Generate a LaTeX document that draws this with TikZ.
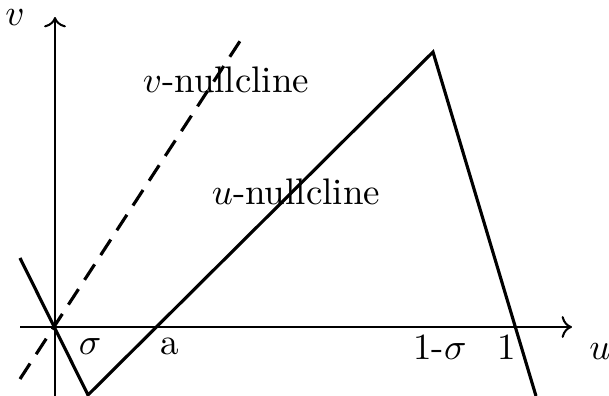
\documentclass[tikz,border=0pt]{standalone}
\usepackage{tikz}
\usetikzlibrary{arrows.meta,calc}
\tikzset{
  phaseA/.style={
    every node/.style={inner sep=1pt, outer sep=0pt},
    line cap=butt, line join=miter,
  },
  axisLine/.style={->, black, line width=0.55pt},
  uNull/.style={black, line width=0.85pt},
  vNull/.style={black, line width=0.85pt, dash pattern=on 5pt off 3pt},
  tickLabel/.style={font=\normalsize, anchor=center},
  curveName/.style={font=\normalsize, anchor=center},
}
\begin{document}
\begin{tikzpicture}[phaseA, x=0.0095cm, y=0.0095cm]

% ============================================================
% Frame: keeps the margins of the original picture.
% ============================================================
\useasboundingbox (-55,-69) rectangle (554,327);

% ============================================================
% Axes
% ============================================================
\draw[axisLine] (-35,0) -- (517,0);
\draw[axisLine] (0,-69) -- (0,310);

\node[tickLabel] (uName) at (545,-25) {$u$};
\node[tickLabel] (vName) at (-40,309) {$v$};

% ============================================================
% u-nullcline: piecewise linear cubic-like curve.
% ============================================================
\coordinate (uStart) at (-35,69);
\coordinate (uMin)   at (33,-68);
\coordinate (uMax)   at (378,275);
\coordinate (uEnd)   at (481,-69);

\draw[uNull] (uStart) -- (uMin) -- (uMax) -- (uEnd);

% ============================================================
% v-nullcline: dashed straight line through the origin.
% ============================================================
\coordinate (vStart) at (-35,-52);
\coordinate (vEnd)   at (189,292);

\draw[vNull] (vStart) -- (vEnd);

% Curve names
\node[curveName] (vLabel) at (171,247) {$v$-nullcline};
\node[curveName] (uLabel) at (241,135) {$u$-nullcline};

% ============================================================
% Marks on the u axis
% ============================================================
\node[tickLabel] (sigLabel)  at (35,-20)  {$\sigma$};
\node[tickLabel] (aLabel)    at (115,-19) {a};
\node[tickLabel] (oneSig)    at (385,-20) {1-$\sigma$};
\node[tickLabel] (oneLabel)  at (452,-20) {1};

\end{tikzpicture}
\end{document}
